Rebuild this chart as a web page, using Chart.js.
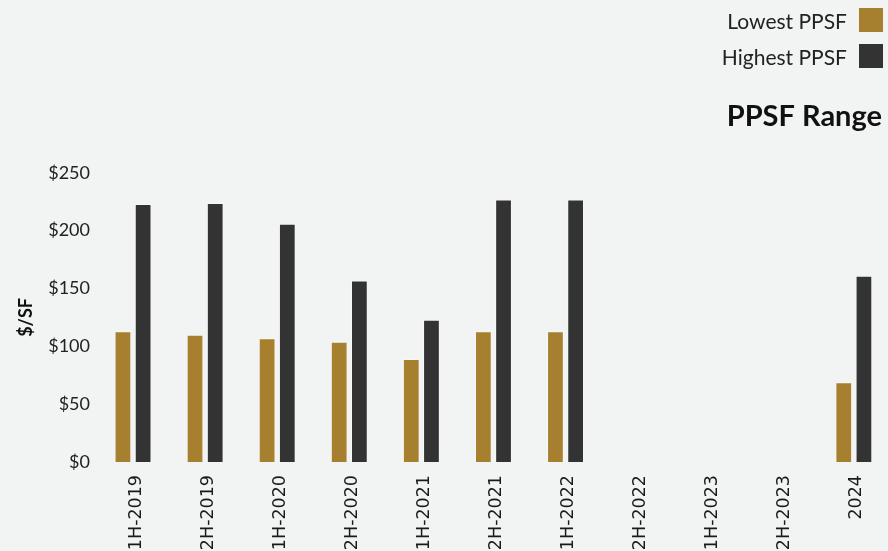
<!DOCTYPE html>
<html>
<head>
<meta charset="utf-8">
<title>PPSF Range</title>
<script src="https://cdn.jsdelivr.net/npm/chart.js@4.4.1/dist/chart.umd.min.js"></script>
<style>
  html, body { margin: 0; padding: 0; background: #f2f4f3; overflow: hidden; }
  #wrap { position: relative; width: 888px; height: 551px; }
  #legend { position: absolute; top: 8px; right: 5px; font-family: Lato, sans-serif; font-size: 21px; color: #222; }
  #legend .item { display: flex; align-items: center; justify-content: flex-end; height: 24px; margin-bottom: 12px; }
  #legend .swatch { width: 24px; height: 24px; margin-left: 12px; }
</style>
</head>
<body>
<div id="wrap">
  <canvas id="ppsfChart" width="888" height="551"></canvas>
  <div id="legend"></div>
</div>
<script>
// Periods on the x axis
const periods = ['1H-2019', '2H-2019', '1H-2020', '2H-2020', '1H-2021', '2H-2021',
  '1H-2022', '2H-2022', '1H-2023', '2H-2023', '2024'];

// Price per square foot, $ (null = no data for that period)
const lowestPpsf = [113, 110, 107, 104, 89, 113, 113, null, null, null, 69];
const highestPpsf = [223, 224, 206, 157, 123, 227, 227, null, null, null, 161];

// Y axis ticks
const yTicks = [0, 50, 100, 150, 200, 250];

const seriesNames = ['Lowest PPSF', 'Highest PPSF'];
const seriesColors = ['#a6802e', '#333333'];

/**
 * Build the HTML legend (text left, swatch right)
 */
function buildLegend() {
  const legendEl = document.getElementById('legend');
  seriesNames.forEach((name, i) => {
    const item = document.createElement('div');
    item.className = 'item';
    const label = document.createElement('span');
    label.textContent = name;
    const swatch = document.createElement('span');
    swatch.className = 'swatch';
    swatch.style.background = seriesColors[i];
    item.appendChild(label);
    item.appendChild(swatch);
    legendEl.appendChild(item);
  });
}

// bars sit on a numeric x axis, one unit per period
function toPoints(values) {
  return values.map((v, i) => ({ x: i, y: v }));
}

function initChart() {
  const ctx = document.getElementById('ppsfChart').getContext('2d');
  new Chart(ctx, {
    type: 'bar',
    data: {
      datasets: [{
        label: seriesNames[0],
        data: toPoints(lowestPpsf),
        backgroundColor: seriesColors[0],
        borderColor: 'rgba(255,255,255,0.35)',
        borderWidth: 1
      }, {
        label: seriesNames[1],
        data: toPoints(highestPpsf),
        backgroundColor: seriesColors[1],
        borderColor: 'rgba(255,255,255,0.35)',
        borderWidth: 1
      }]
    },
    options: {
      responsive: false,
      animation: false,
      categoryPercentage: 0.56,
      barPercentage: 0.83,
      layout: {
        padding: { top: 99, right: 6, left: 0, bottom: 0 }
      },
      plugins: {
        legend: { display: false },
        tooltip: { enabled: false },
        title: {
          display: true,
          text: 'PPSF Range',
          align: 'end',
          color: '#111',
          font: { family: 'Lato', size: 29, weight: 'bold' },
          padding: { top: 0, bottom: 39 }
        }
      },
      scales: {
        x: {
          type: 'linear',
          offset: false,
          min: -0.5,
          max: 10.25,
          grid: { display: false, drawTicks: false },
          border: { display: false },
          afterBuildTicks: (axis) => {
            axis.ticks = periods.map((_, i) => ({ value: i }));
          },
          afterFit: (axis) => {
            axis.height = 89;
          },
          ticks: {
            autoSkip: false,
            minRotation: 90,
            maxRotation: 90,
            padding: 13,
            labelOffset: 3,
            color: '#1a1a1a',
            font: { family: "'DejaVu Sans'", size: 17.5 },
            callback: (value) => periods[value]
          }
        },
        y: {
          min: 0,
          max: 250,
          grid: { display: false, drawTicks: false },
          border: { display: false },
          afterBuildTicks: (axis) => {
            axis.ticks = yTicks.map((v) => ({ value: v }));
          },
          afterFit: (axis) => {
            axis.width = 97;
          },
          ticks: {
            padding: 7,
            color: '#222',
            font: { family: 'Lato', size: 18 },
            callback: (value) => '$' + value
          },
          title: {
            display: true,
            text: '$/SF',
            color: '#111',
            font: { family: 'Lato', size: 18, weight: 'bold' },
            padding: { top: 15 }
          }
        }
      }
    }
  });
}

buildLegend();
initChart();
</script>
</body>
</html>
